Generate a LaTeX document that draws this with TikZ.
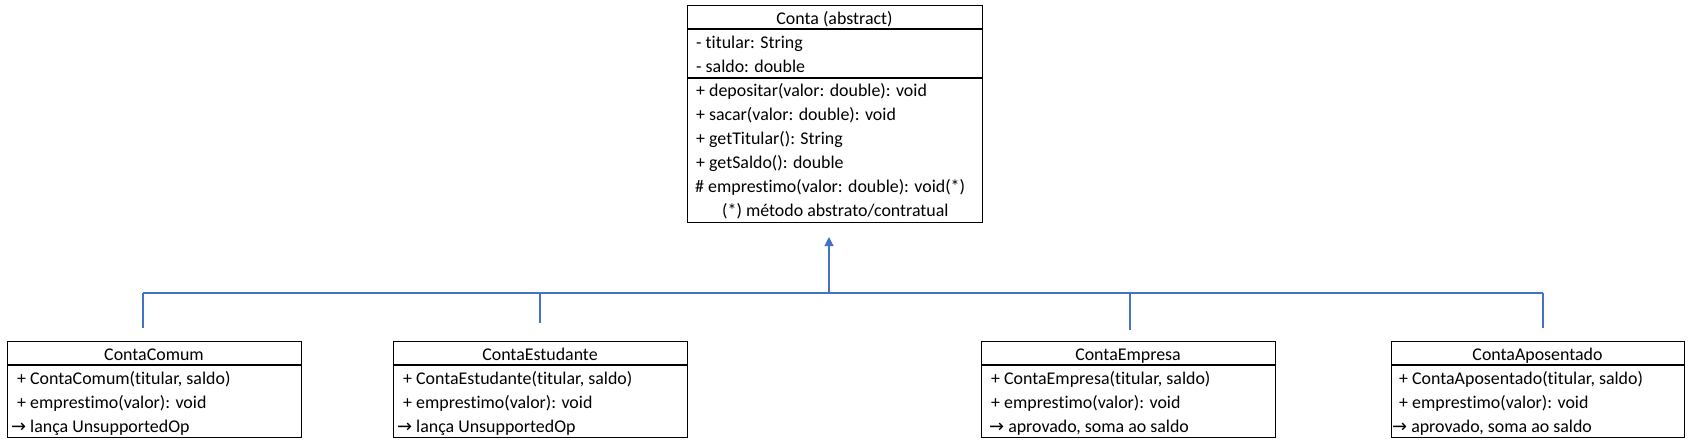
\documentclass[tikz,border=0pt]{standalone}
\usepackage{fontspec}
\setmainfont{Carlito}[Ligatures=NoCommon]
\newfontfamily\arrowfont{DejaVu Sans}
\usetikzlibrary{arrows.meta}
\definecolor{conncol}{HTML}{4472C4}
\begin{document}
\begin{tikzpicture}[x=1pt,y=-1pt,
  box/.style={draw=black, line width=1.15pt, inner sep=0pt, anchor=north west},
  txt/.style={anchor=base west, inner sep=0pt, font=\fontsize{17.9}{24}\selectfont},
  ttl/.style={anchor=base, inner sep=0pt, font=\fontsize{17.9}{24}\selectfont},
  conn/.style={draw=conncol, line width=1.15pt},
  sepline/.style={draw=black, line width=1.15pt}]
\useasboundingbox (0,0) rectangle (1692,445);

% ---- Conta (abstract)
\node[box, minimum width=295pt, minimum height=217pt] (conta) at (687,5) {};
\draw[sepline] (687,29) -- (982,29);
\draw[sepline] (687,78) -- (982,78);
\node[ttl] (contaT) at (834.5,24.5) {Conta (abstract)};
\node[txt] (a1) at (696,48.5) {- titular: String};
\node[txt] (a2) at (696,72.5) {- saldo: double};
\node[txt] (m1) at (696,96.5) {+ depositar(valor: double): void};
\node[txt] (m2) at (696,120.5) {+ sacar(valor: double): void};
\node[txt] (m3) at (696,144.5) {+ getTitular(): String};
\node[txt] (m4) at (696,168.5) {+ getSaldo(): double};
\node[txt] (m5) at (695,192.5) {\# emprestimo(valor: double): void(*)};
\node[txt] (m6) at (722,216.5) {(*) método abstrato/contratual};

% ---- ContaComum
\node[box, minimum width=294pt, minimum height=96pt] (cc) at (7,341) {};
\draw[sepline] (7,365) -- (301,365);
\node[ttl] (ccT) at (154,360) {ContaComum};
\node[txt] (cc1) at (17,384) {+ ContaComum(titular, saldo)};
\node[txt] (cc2) at (17,408) {+ emprestimo(valor): void};
\node[txt] (cc3) at (11,432) {{\arrowfont →} lança UnsupportedOp};

% ---- ContaEstudante
\node[box, minimum width=294pt, minimum height=96pt] (ce) at (393,341) {};
\draw[sepline] (393,365) -- (687,365);
\node[ttl] (ceT) at (540,360) {ContaEstudante};
\node[txt] (ce1) at (403,384) {+ ContaEstudante(titular, saldo)};
\node[txt] (ce2) at (403,408) {+ emprestimo(valor): void};
\node[txt] (ce3) at (397,432) {{\arrowfont →} lança UnsupportedOp};

% ---- ContaEmpresa
\node[box, minimum width=294pt, minimum height=96pt] (cm) at (981,341) {};
\draw[sepline] (981,365) -- (1275,365);
\node[ttl] (cmT) at (1128,360) {ContaEmpresa};
\node[txt] (cm1) at (991,384) {+ ContaEmpresa(titular, saldo)};
\node[txt] (cm2) at (991,408) {+ emprestimo(valor): void};
\node[txt] (cm3) at (989,432) {{\arrowfont →} aprovado, soma ao saldo};

% ---- ContaAposentado
\node[box, minimum width=293pt, minimum height=96pt] (ca) at (1391,341) {};
\draw[sepline] (1391,365) -- (1684,365);
\node[ttl] (caT) at (1537.5,360) {ContaAposentado};
\node[txt] (ca1) at (1399,384) {+ ContaAposentado(titular, saldo)};
\node[txt] (ca2) at (1399,408) {+ emprestimo(valor): void};
\node[txt] (ca3) at (1392,432) {{\arrowfont →} aprovado, soma ao saldo};

% ---- connectors
\coordinate (hub) at (829,293);
\coordinate (tip) at (829,237);
\coordinate (h1) at (143,293);
\coordinate (h2) at (540,293);
\coordinate (h3) at (1130,293);
\coordinate (h4) at (1543,293);
\coordinate (e1) at (143,328);
\coordinate (e2) at (540,323);
\coordinate (e3) at (1130,330);
\coordinate (e4) at (1543,328);
\draw[conn] (h1) -- (h4);
\draw[conn] (e1) -- (h1);
\draw[conn] (e2) -- (h2);
\draw[conn] (e3) -- (h3);
\draw[conn] (e4) -- (h4);
\draw[conn, -{Triangle[length=9pt,width=9pt]}] (hub) -- (tip);
\end{tikzpicture}
\end{document}
